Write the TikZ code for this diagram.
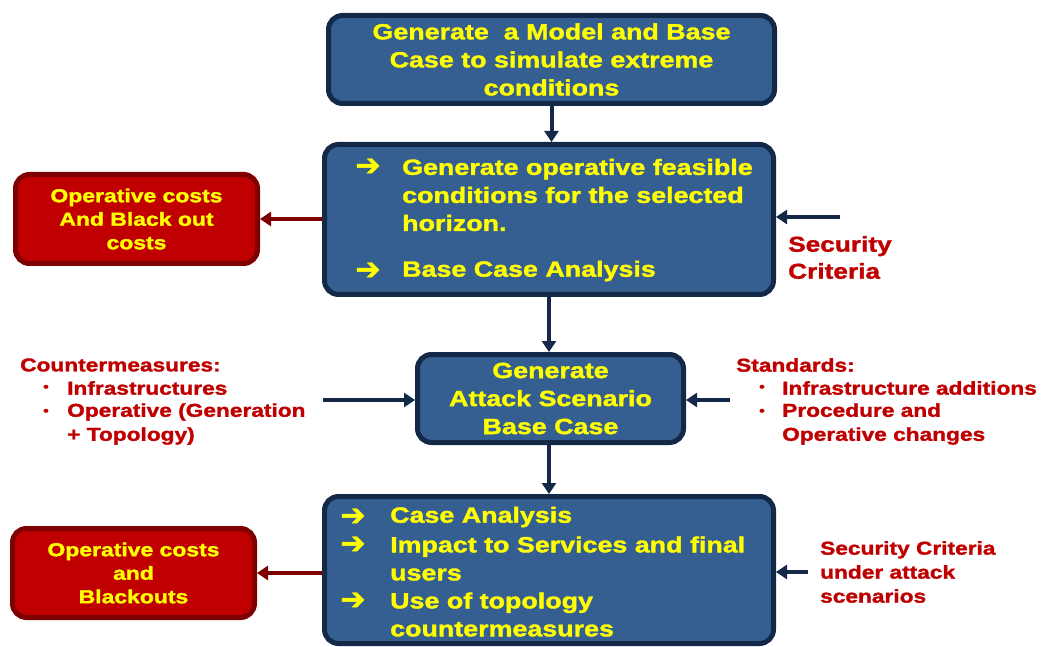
\documentclass[tikz,border=0pt]{standalone}
\usepackage{fontspec}
\setmainfont{Liberation Sans}[BoldFeatures={FakeBold=1.6,FakeStretch=1.22}]
\newfontfamily\dejavu{DejaVu Sans}[BoldFeatures={FakeBold=1.5}]
\usetikzlibrary{arrows.meta}
\definecolor{boxblue}{RGB}{54,95,145}
\definecolor{navy}{RGB}{20,40,72}
\definecolor{redfill}{RGB}{192,0,0}
\definecolor{redborder}{RGB}{127,0,0}
\definecolor{ytext}{RGB}{255,255,0}
\definecolor{rtext}{RGB}{192,0,0}
\begin{document}
\begin{tikzpicture}[x=1pt,y=-1pt,
  bluebox/.style={draw=navy, fill=boxblue, line width=5pt, rounded corners=14pt, inner sep=0pt, text=ytext, font=\bfseries\fontsize{22}{28}\selectfont, align=center},
  redbox/.style={draw=redborder, fill=redfill, line width=5pt, rounded corners=14pt, inner sep=0pt, text=ytext, font=\bfseries\fontsize{18.8}{23.5}\selectfont, align=center},
  ytxt/.style={text=ytext, font=\bfseries\fontsize{22}{28}\selectfont, align=left, inner sep=0pt, anchor=west},
  yarr/.style={text=ytext, font=\dejavu\bfseries\fontsize{30}{30}\selectfont, inner sep=0pt},
  rtxt/.style={text=rtext, font=\bfseries\fontsize{18.6}{24}\selectfont, align=left, inner sep=0pt, anchor=west},
  rbig/.style={text=rtext, font=\bfseries\fontsize{21.5}{27}\selectfont, align=left, inner sep=0pt, anchor=west},
  rdot/.style={text=rtext, font=\bfseries\fontsize{13}{13}\selectfont, inner sep=0pt},
  navyarrow/.style={draw=navy, line width=4pt, -{Triangle[length=11pt,width=14pt]}},
  redarrow/.style={draw=redborder, line width=4pt, -{Triangle[length=11pt,width=14pt]}}
]
\useasboundingbox (0,0) rectangle (1045,647);

% main boxes
\node[bluebox, minimum width=446pt, minimum height=88pt] (b1) at (551.5,59.5)
  {Generate\ \ a Model and Base\\Case to simulate extreme\\conditions};
\node[bluebox, minimum width=449pt, minimum height=150pt] (b2) at (549,219.5) {};
\node[bluebox, minimum width=266pt, minimum height=88pt] (b3) at (550.5,398.5)
  {Generate\\Attack Scenario\\Base Case};
\node[bluebox, minimum width=449pt, minimum height=147pt] (b4) at (549,570) {};

% red boxes
\node[redbox, minimum width=242pt, minimum height=89pt] (r1) at (136.5,219)
  {Operative costs\\And Black out\\costs};
\node[redbox, minimum width=242pt, minimum height=89pt] (r2) at (133.5,573)
  {Operative costs\\and\\Blackouts};

% text in box 2
\node[yarr] (a21) at (368,167) {➔};
\node[ytxt] (t21) at (402,195) {Generate operative feasible\\conditions for the selected\\horizon.};
\node[yarr] (a22) at (368,271) {➔};
\node[ytxt] (t22) at (402,271) {Base Case Analysis};

% text in box 4
\node[yarr] (a41) at (353,517) {➔};
\node[ytxt] (t41) at (390,517) {Case Analysis};
\node[yarr] (a42) at (353,545) {➔};
\node[ytxt] (t42) at (390,558.5) {Impact to Services and final\\users};
\node[yarr] (a43) at (353,601) {➔};
\node[ytxt] (t43) at (390,614.5) {Use of topology\\countermeasures};

% side texts
\node[rbig] (sc) at (788,257.5) {Security\\Criteria};
\node[rtxt] (cm) at (20,365) {Countermeasures:};
\node[rdot] (cmd1) at (46,388) {•};
\node[rtxt] (cm1) at (67,388) {Infrastructures};
\node[rdot] (cmd2) at (46,412) {•};
\node[rtxt] (cm2) at (67,424) {Operative (Generation\\+ Topology)};
\node[rtxt] (st) at (736,365) {Standards:};
\node[rdot] (std1) at (762,388) {•};
\node[rtxt] (st1) at (782,388) {Infrastructure additions};
\node[rdot] (std2) at (762,412) {•};
\node[rtxt] (st2) at (782,424) {Procedure and\\Operative changes};
\node[rtxt] (sa) at (820,572) {Security Criteria\\under attack\\scenarios};

% free ends
\coordinate (sce) at (840,217);
\coordinate (cme) at (323,400);
\coordinate (ste) at (730,400);
\coordinate (sae) at (808,572);

% connectors
\draw[navyarrow] (b1.south) -- (b1.south |- b2.north);
\draw[navyarrow] (b2.south) -- (b2.south |- b3.north);
\draw[navyarrow] (b3.south -| b2.south) -- (b2.south |- b4.north);
\draw[redarrow] (r1.east -| b2.west) -- (r1.east);
\draw[redarrow] (r2.east -| b4.west) -- (r2.east);
\draw[navyarrow] (sce) -- (sce -| b2.east);
\draw[navyarrow] (cme) -- (cme -| b3.west);
\draw[navyarrow] (ste) -- (ste -| b3.east);
\draw[navyarrow] (sae) -- (sae -| b4.east);
\end{tikzpicture}
\end{document}
